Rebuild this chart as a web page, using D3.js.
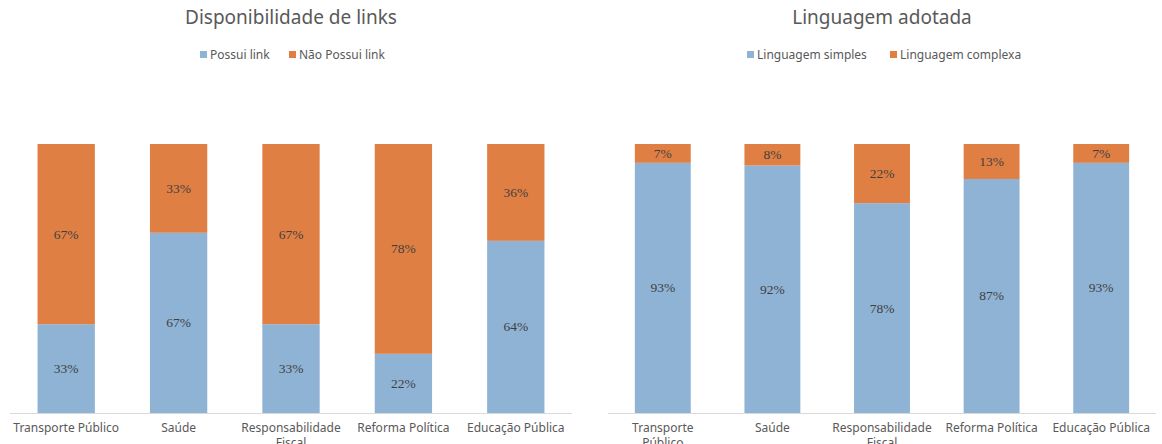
<!DOCTYPE html>
<html lang="pt">
<head>
    <meta charset="UTF-8">
    <title>Disponibilidade de links / Linguagem adotada</title>
    <style>
        * { margin: 0; padding: 0; }
        body { background: #ffffff; width: 1162px; height: 444px; overflow: hidden; }
        svg text { font-family: "Noto Sans", "Open Sans", sans-serif; }
    </style>
</head>
<body>
<div id="container"></div>

<script src="https://cdn.jsdelivr.net/npm/d3@7"></script>
<script>
    "use strict";

    // categorias (iguais nos dois gráficos)
    var categories = ["Transporte Público", "Saúde", "Responsabilidade Fiscal", "Reforma Política", "Educação Pública"];

    // gráfico 1 - disponibilidade de links (%)
    var possuiLink = [33, 67, 33, 22, 64];
    var naoPossuiLink = [67, 33, 67, 78, 36];

    // gráfico 2 - linguagem adotada (%)
    var linguagemSimples = [93, 92, 78, 87, 93];
    var linguagemComplexa = [7, 8, 22, 13, 7];

    var blue = "#8fb3d5",
        orange = "#e07f43";

    var svg = d3.select("#container")
        .append("svg")
        .attr("width", 1162)
        .attr("height", 444);

    function drawChart(opt) {
        var g = svg.append("g");

        var x = d3.scaleBand()
            .domain(categories)
            .range([opt.left, opt.right])
            .paddingInner(0.49)
            .paddingOuter(0.245);

        var y = d3.scaleLinear()
            .domain([0, 100])
            .range([413, 144]);

        var center = (opt.left + opt.right) / 2;

        // título
        g.append("text")
            .attr("x", center)
            .attr("y", 24)
            .attr("text-anchor", "middle")
            .attr("font-size", "19px")
            .attr("fill", "#595959")
            .text(opt.title);

        // legenda
        var legend = g.append("g");
        var lx = opt.legendX;
        opt.series.forEach(function(s, i) {
            legend.append("rect")
                .attr("x", lx[i])
                .attr("y", 51)
                .attr("width", 7)
                .attr("height", 7)
                .attr("fill", s.color);
            legend.append("text")
                .attr("x", lx[i] + 10)
                .attr("y", 59)
                .attr("font-size", "12px")
                .attr("fill", "#595959")
                .text(s.name);
        });

        // barras empilhadas
        var stackData = categories.map(function(c, i) {
            var o = { cat: c };
            opt.series.forEach(function(s) { o[s.name] = s.values[i]; });
            return o;
        });
        var stack = d3.stack().keys(opt.series.map(function(s) { return s.name; }));
        var layers = stack(stackData);

        layers.forEach(function(layer, li) {
            var col = opt.series[li].color;
            g.selectAll(null)
                .data(layer)
                .enter()
                .append("rect")
                .attr("x", function(d) { return x(d.data.cat); })
                .attr("y", function(d) { return y(d[1]); })
                .attr("width", x.bandwidth())
                .attr("height", function(d) { return y(d[0]) - y(d[1]); })
                .attr("fill", col);

            g.selectAll(null)
                .data(layer)
                .enter()
                .append("text")
                .attr("x", function(d) { return x(d.data.cat) + x.bandwidth() / 2; })
                .attr("y", function(d) { return (y(d[0]) + y(d[1])) / 2 + 4.5; })
                .attr("text-anchor", "middle")
                .attr("font-size", "13.5px")
                .attr("fill", "#404040")
                .style("font-family", "'Liberation Serif', 'DejaVu Serif', serif")
                .text(function(d) { return (d[1] - d[0]) + "%"; });
        });

        // eixo x
        g.append("line")
            .attr("x1", opt.left)
            .attr("x2", opt.right)
            .attr("y1", 413.5)
            .attr("y2", 413.5)
            .attr("stroke", "#d9d9d9")
            .attr("stroke-width", 1);

        var labels = g.selectAll(null)
            .data(categories)
            .enter()
            .append("text")
            .attr("text-anchor", "middle")
            .attr("font-size", "12px")
            .attr("fill", "#595959")
            .attr("transform", function(d) { return "translate(" + (x(d) + x.bandwidth() / 2) + ",432)"; });

        labels.each(function(d) {
            var lines = opt.wrap[d] || [d];
            var t = d3.select(this);
            lines.forEach(function(l, i) {
                t.append("tspan")
                    .attr("x", 0)
                    .attr("dy", i === 0 ? 0 : 15)
                    .text(l);
            });
        });
    }

    drawChart({
        title: "Disponibilidade de links",
        left: 10,
        right: 572,
        legendX: [200, 289],
        series: [
            { name: "Possui link", values: possuiLink, color: blue },
            { name: "Não Possui link", values: naoPossuiLink, color: orange }
        ],
        wrap: { "Responsabilidade Fiscal": ["Responsabilidade", "Fiscal"] }
    });

    drawChart({
        title: "Linguagem adotada",
        left: 608,
        right: 1156,
        legendX: [747, 890],
        series: [
            { name: "Linguagem simples", values: linguagemSimples, color: blue },
            { name: "Linguagem complexa", values: linguagemComplexa, color: orange }
        ],
        wrap: {
            "Transporte Público": ["Transporte", "Público"],
            "Responsabilidade Fiscal": ["Responsabilidade", "Fiscal"]
        }
    });
</script>
</body>
</html>
